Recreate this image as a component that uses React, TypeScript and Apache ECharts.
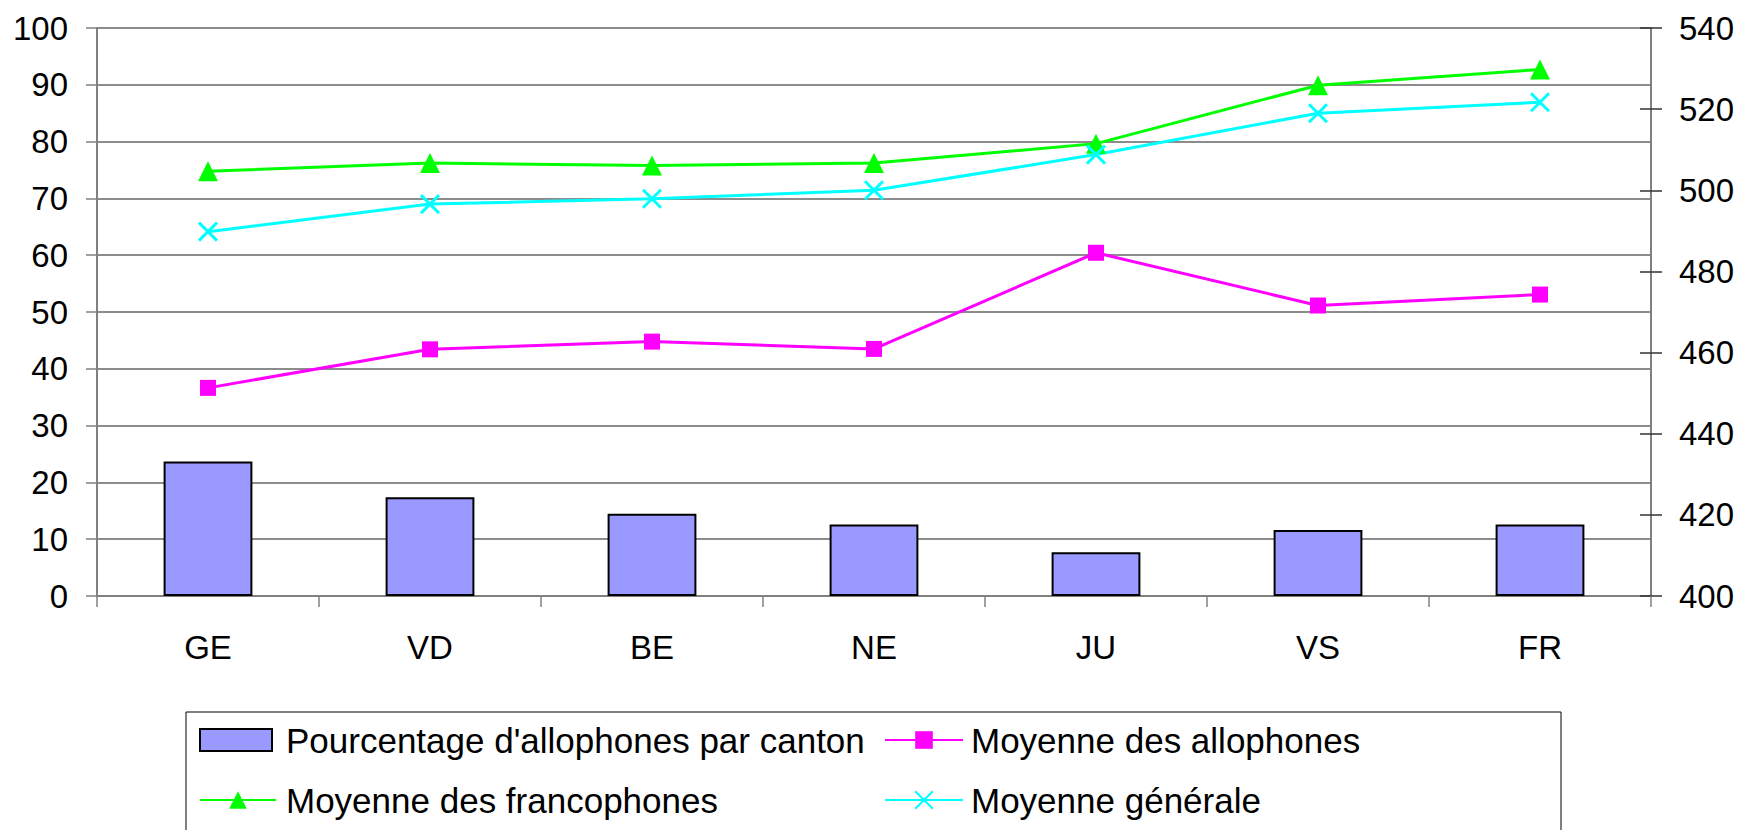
import React, { useEffect, useRef } from "react";
import * as echarts from "echarts";

const categories = ["GE", "VD", "BE", "NE", "JU", "VS", "FR"];
const pourcentageAllophones = [23.7, 17.4, 14.5, 12.6, 7.7, 11.6, 12.6];
const moyenneAllophones = [451.3, 460.8, 462.7, 460.9, 484.6, 471.6, 474.3];
const moyenneFrancophones = [504.7, 506.7, 506.1, 506.7, 511.5, 525.9, 529.8];
const moyenneGenerale = [489.8, 496.6, 497.9, 500.0, 508.8, 519.0, 521.7];

const seriesNames = [
  "Pourcentage d'allophones par canton",
  "Moyenne des allophones",
  "Moyenne des francophones",
  "Moyenne générale",
];

const FONT = "'Liberation Sans', Arial, sans-serif";
const AXIS_GRAY = "#808080";
const GRID_GRAY = "#666666";
const X_SYMBOL = "path://M0,0L10,10M0,10L10,0";

export default function App() {
  const ref = useRef<HTMLDivElement>(null);

  useEffect(() => {
    if (!ref.current) return;
    const chart = echarts.init(ref.current, null, { renderer: "svg" });

    const legendText = {
      fontFamily: FONT,
      fontSize: 35,
      color: "#000",
      lineHeight: 38,
    };

    const legendBase = { padding: 0, selectedMode: false };

    const option: any = {
      animation: false,
      backgroundColor: "#ffffff",
      grid: { left: 97, right: 100, top: 28, bottom: 234, containLabel: false },
      legend: [
        {
          ...legendBase,
          data: [{ name: seriesNames[0], icon: "rect" }],
          left: 199,
          top: 721,
          itemWidth: 72,
          itemHeight: 22,
          textStyle: { ...legendText, padding: [0, 0, 0, 9] },
        },
        {
          ...legendBase,
          data: [seriesNames[1]],
          left: 884,
          top: 721,
          itemWidth: 78,
          itemHeight: 22,
          textStyle: { ...legendText, padding: [0, 0, 0, 3] },
        },
        {
          ...legendBase,
          data: [seriesNames[2]],
          left: 199,
          top: 781,
          itemWidth: 76,
          itemHeight: 22,
          textStyle: { ...legendText, padding: [0, 0, 0, 5] },
        },
        {
          ...legendBase,
          data: [seriesNames[3]],
          left: 884,
          top: 781,
          itemWidth: 78,
          itemHeight: 22,
          textStyle: { ...legendText, padding: [0, 0, 0, 3] },
        },
      ],
      graphic: [
        {
          type: "rect",
          shape: { x: 186, y: 712, width: 1375, height: 140 },
          style: { fill: "none", stroke: "#000000", lineWidth: 1 },
          silent: true,
          z: 0,
        },
      ],
      xAxis: {
        type: "category",
        data: categories,
        boundaryGap: true,
        axisLine: { show: true, lineStyle: { color: AXIS_GRAY, width: 2 } },
        axisTick: { show: true, alignWithLabel: false, length: 11, lineStyle: { color: AXIS_GRAY, width: 1.5 } },
        axisLabel: { color: "#000", fontFamily: FONT, fontSize: 33, margin: 35 },
        splitLine: { show: false },
      },
      yAxis: [
        {
          type: "value",
          position: "left",
          min: 0,
          max: 100,
          interval: 10,
          axisLine: { show: true, lineStyle: { color: AXIS_GRAY, width: 2 } },
          axisTick: { show: true, inside: false, length: 11, lineStyle: { color: AXIS_GRAY, width: 1.5 } },
          axisLabel: { color: "#000", fontFamily: FONT, fontSize: 33, margin: 29 },
          splitLine: { show: true, lineStyle: { color: GRID_GRAY, width: 1.5 } },
        },
        {
          type: "value",
          position: "right",
          min: 400,
          max: 540,
          interval: 20,
          axisLine: { show: true, lineStyle: { color: AXIS_GRAY, width: 2 } },
          axisTick: { show: true, inside: false, length: 11, lineStyle: { color: "#333", width: 1.5 } },
          axisLabel: { color: "#000", fontFamily: FONT, fontSize: 33, margin: 28 },
          splitLine: { show: false },
        },
        {
          type: "value",
          position: "right",
          min: 400,
          max: 540,
          interval: 20,
          axisLine: { show: false },
          axisTick: { show: true, inside: true, length: 11, lineStyle: { color: "#333", width: 1.5 } },
          axisLabel: { show: false },
          splitLine: { show: false },
        },
      ],
      series: [
        {
          name: seriesNames[0],
          type: "bar",
          yAxisIndex: 0,
          data: pourcentageAllophones,
          barWidth: "40%",
          itemStyle: { color: "#9999FF", borderColor: "#000000", borderWidth: 2 },
          z: 2,
        },
        {
          name: seriesNames[1],
          type: "line",
          yAxisIndex: 1,
          data: moyenneAllophones,
          symbol: "rect",
          symbolSize: 16,
          lineStyle: { color: "#FF00FF", width: 3 },
          itemStyle: { color: "#FF00FF" },
          z: 3,
        },
        {
          name: seriesNames[2],
          type: "line",
          yAxisIndex: 1,
          data: moyenneFrancophones,
          symbol: "triangle",
          symbolSize: 20,
          lineStyle: { color: "#00FF00", width: 3 },
          itemStyle: { color: "#00FF00" },
          z: 3,
        },
        {
          name: seriesNames[3],
          type: "line",
          yAxisIndex: 1,
          data: moyenneGenerale,
          symbol: X_SYMBOL,
          symbolSize: 18,
          lineStyle: { color: "#00FFFF", width: 3 },
          itemStyle: { color: "#00FFFF", borderColor: "#00FFFF", borderWidth: 3 },
          z: 3,
        },
      ],
    };

    chart.setOption(option);
    return () => chart.dispose();
  }, []);

  return (
    <div
      ref={ref}
      style={{ position: "absolute", left: 0, top: 0, width: 1751, height: 830, background: "#fff" }}
    />
  );
}
